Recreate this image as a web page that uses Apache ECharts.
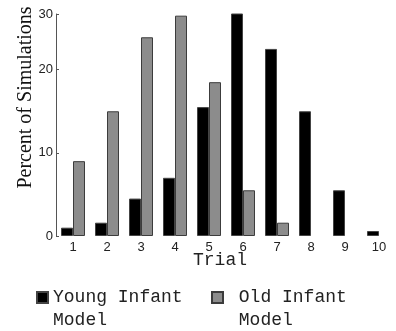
<!DOCTYPE html>
<html>
<head>
    <meta charset="utf-8">
    <title>Trial histogram</title>
    <script src="https://cdn.jsdelivr.net/npm/echarts@6/dist/echarts.min.js"></script>
    <style>
        html, body { margin: 0; padding: 0; background: #fff; }
        #chart { width: 396px; height: 331px; }
    </style>
</head>
<body>
    <div id="chart"></div>
<script type="text/javascript">
    // data (percent of simulations per trial)
    var trials = ['1', '2', '3', '4', '5', '6', '7', '8', '9', '10'];
    var youngModel = [1.0, 1.6, 4.5, 7.0, 15.5, 26.9, 22.5, 15.0, 5.5, 0.6];
    var oldModel = [9.0, 15.0, 23.9, 26.5, 18.5, 5.5, 1.6, null, null, null]; // no bar for 8-10
    var yTop = 26.7;   // top of the drawn axis, labelled "30" in the original

    var myChart = echarts.init(document.getElementById('chart'));

    var mono = '"Liberation Mono", "DejaVu Sans Mono", monospace';
    var sans = '"Liberation Sans", Arial, sans-serif';

    // empty first line so the icon sits next to the first text line
    function legendFmt(name) {
        return '\n' + name.replace(' Model', '\nModel');
    }
    function legendFmtIndent(name) {
        return '\n ' + name.replace(' Model', '\n Model');
    }

    myChart.setOption({
        animation: false,
        grid: { left: 56, top: 14, width: 350, bottom: 95 },
        legend: [{
            data: ['Young Infant Model'],
            left: 31, top: 258,
            icon: 'rect',
            itemWidth: 11, itemHeight: 11,
            formatter: legendFmt,
            textStyle: { fontFamily: mono, fontSize: 18, color: '#222', lineHeight: 23 }
        }, {
            data: ['Old Infant Model'],
            left: 206, top: 258,
            icon: 'rect',
            itemWidth: 11, itemHeight: 11,
            formatter: legendFmtIndent,
            textStyle: { fontFamily: mono, fontSize: 18, color: '#222', lineHeight: 23 }
        }],
        xAxis: {
            type: 'category',
            data: trials,
            name: 'Trial',
            nameLocation: 'middle',
            nameGap: 15,
            nameMoveOverlap: false,
            nameTextStyle: { fontFamily: mono, fontSize: 18, color: '#222', padding: [0, 12, 0, 0] },
            axisLine: { show: false },
            axisTick: { show: false },
            axisLabel: { fontFamily: sans, fontSize: 13, color: '#222', margin: 5 }
        },
        yAxis: {
            type: 'value',
            min: 0,
            max: yTop,
            interval: 10,
            name: 'Percent of Simulations',
            nameLocation: 'middle',
            nameGap: 20,
            nameMoveOverlap: false,
            nameTextStyle: { fontFamily: '"Liberation Serif", "Times New Roman", serif', fontSize: 20, color: '#111', padding: [0, 0, 0, 55] },
            axisLine: { show: true, lineStyle: { color: '#555', width: 1 } },
            axisTick: { show: true, inside: true, length: 3, lineStyle: { color: '#555' } },
            splitLine: { show: false },
            axisLabel: {
                fontFamily: sans, fontSize: 13, color: '#222', margin: 3,
                formatter: function (v) { return v > 25 ? '30' : v; }
            }
        },
        series: [{
            name: 'Young Infant Model',
            type: 'bar',
            data: youngModel,
            barWidth: 12,
            barGap: '0%',
            itemStyle: { color: '#000', borderColor: '#444', borderWidth: 1 }
        }, {
            name: 'Old Infant Model',
            type: 'bar',
            data: oldModel,
            barWidth: 12,
            itemStyle: { color: '#8c8c8c', borderColor: '#3c3c3c', borderWidth: 1 }
        }]
    });
</script>
</body>
</html>
